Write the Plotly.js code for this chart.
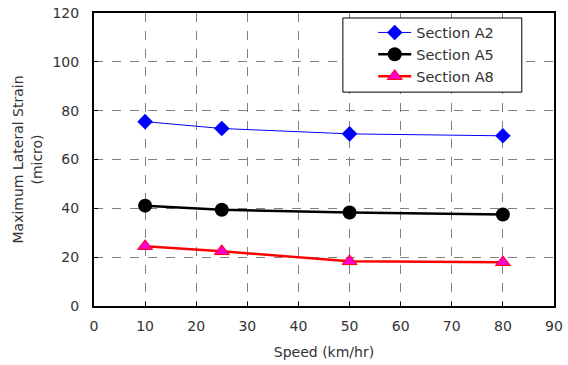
<!DOCTYPE html>
<html><head><meta charset="utf-8">
<script src="https://cdn.plot.ly/plotly-3.0.1.min.js"></script>
<style>html,body{margin:0;padding:0;background:#fff}#c{width:568px;height:365px}</style>
</head><body><div id="c"></div>
<script>
const speed = [10, 25, 50, 80];
const sectionA2 = [75.5, 72.7, 70.5, 69.7];
const sectionA5 = [41.1, 39.4, 38.3, 37.5];
const sectionA8 = [24.5, 22.4, 18.3, 17.9];
const names = ["Section A2", "Section A5", "Section A8"];

const fam = "DejaVu Sans, Verdana, sans-serif";
const font = {family: fam, size: 14, color: "#333"};
const traces = [
  {x: speed, y: sectionA2, name: names[0], mode: "lines+markers",
   line: {color: "#0000ff", width: 1}, marker: {symbol: "diamond", size: 12, color: "#0000ff"}},
  {x: speed, y: sectionA5, name: names[1], mode: "lines+markers",
   line: {color: "#000000", width: 2.5}, marker: {symbol: "circle", size: 14, color: "#000000"}},
  {x: speed, y: sectionA8, name: names[2], mode: "lines+markers",
   line: {color: "#ff0000", width: 2.5}, marker: {symbol: "triangle-up", size: 13, color: "#ff00cc", line: {color: "#ff0000", width: 1}}}
];
const layout = {
  width: 568, height: 365,
  margin: {l: 94, r: 14, t: 13, b: 59},
  paper_bgcolor: "#fff", plot_bgcolor: "#fff",
  font: font,
  showlegend: true,
  legend: {x: 0.607, y: 0.988, xanchor: "left", yanchor: "top", borderwidth: 0,
           bgcolor: "rgba(0,0,0,0)", itemwidth: 33, font: {family: fam, size: 14.5, color: "#333"}, tracegroupgap: 0},
  shapes: [{type: "rect", xref: "paper", yref: "paper", x0: 0.541, x1: 0.930, y0: 0.730, y1: 0.983,
            line: {color: "#000", width: 1}, fillcolor: "#fff", layer: "above"}],
  xaxis: {range: [0, 90], dtick: 10, showline: true, linecolor: "#000", linewidth: 2, mirror: true,
          showgrid: true, gridcolor: "#808080", griddash: "dash", gridwidth: 1, zeroline: false,
          ticks: "inside", ticklen: 4, tickcolor: "#000", ticklabelstandoff: 6,
          title: {text: "Speed (km/hr)", font: {family: fam, size: 14, color: "#333"}, standoff: 14}},
  yaxis: {range: [0, 120], dtick: 20, showline: true, linecolor: "#000", linewidth: 2, mirror: true,
          showgrid: true, gridcolor: "#808080", griddash: "dash", gridwidth: 1, zeroline: false,
          ticks: "inside", ticklen: 4, tickcolor: "#000", ticklabelstandoff: 10,
          title: {text: "Maximum Lateral Strain<br>(micro)", font: {family: fam, size: 14, color: "#333"}, standoff: 7}}
};
Plotly.newPlot("c", traces, layout, {staticPlot: true});
</script></body></html>
